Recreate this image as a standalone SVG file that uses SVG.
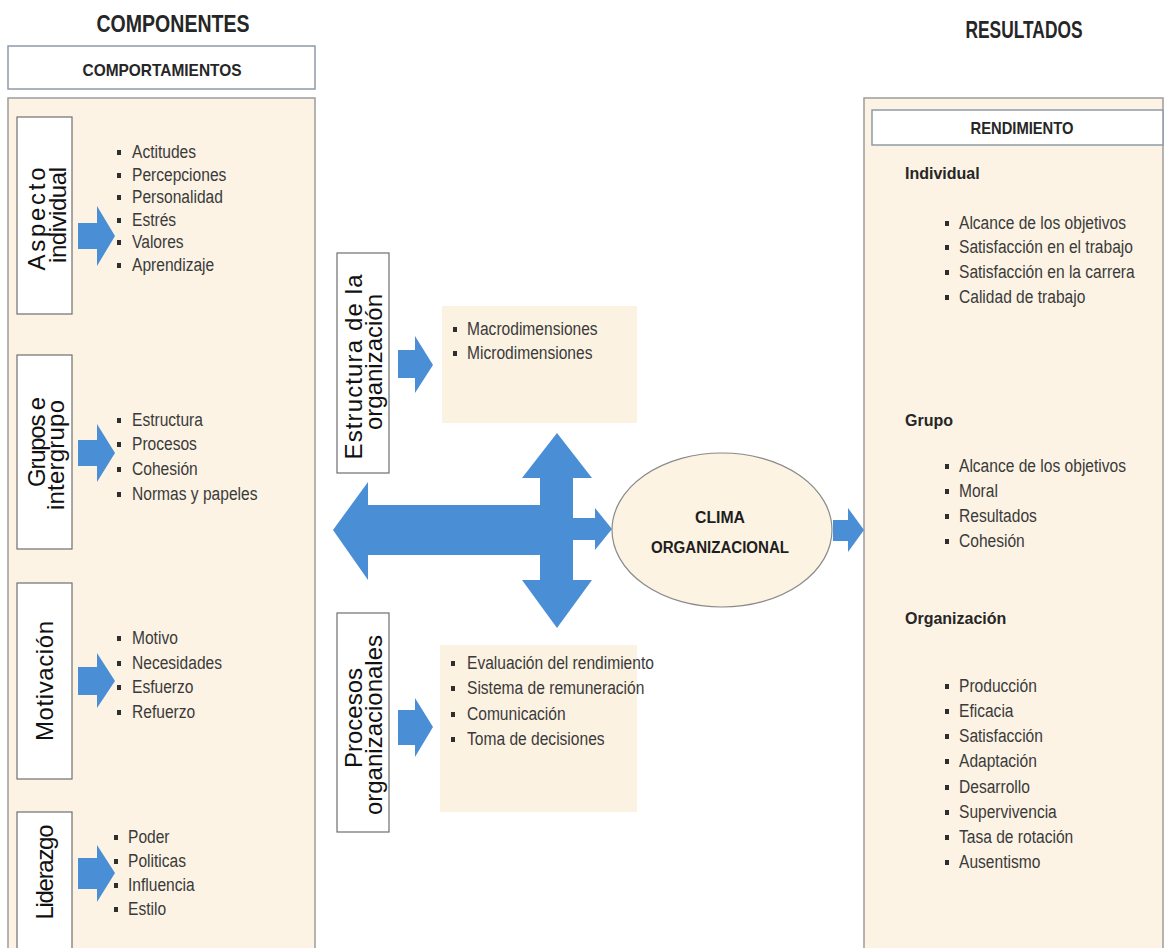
<svg xmlns="http://www.w3.org/2000/svg" width="1165" height="948" viewBox="0 0 1165 948">
<style>
.panel{fill:#fcf3e4;stroke:#9c9c9c;stroke-width:1.5}
.hbox{fill:#ffffff;stroke:#8e9aa8;stroke-width:1.5}
.vbox{fill:#ffffff;stroke:#6f6f6f;stroke-width:1.2}
.lbox{fill:#fcf2e2}
.title{font-family:"Liberation Sans",Arial,sans-serif;font-weight:bold;font-size:23px;fill:#262626;text-anchor:middle}
.hdr{font-family:"Liberation Sans",Arial,sans-serif;font-weight:bold;font-size:17px;fill:#262626;text-anchor:middle}
.vt{font-family:"Liberation Sans",Arial,sans-serif;font-size:24px;fill:#111;text-anchor:middle}
.li{font-family:"Liberation Sans",Arial,sans-serif;font-size:19px;fill:#3a3a3a}
.sub{font-family:"Liberation Sans",Arial,sans-serif;font-weight:bold;font-size:16px;fill:#262626}
.b{fill:#2e2e2e}
.arr{fill:#4a8fd6}
.ell{fill:#fcf3e3;stroke:#8a8a8a;stroke-width:1.2}
.clima{font-family:"Liberation Sans",Arial,sans-serif;font-weight:bold;font-size:16px;fill:#1e1e1e;text-anchor:middle}
</style>
<rect x="0" y="0" width="1165" height="948" fill="#ffffff"/>

<g id="titles">
<text class="title" x="173" y="32" textLength="153" lengthAdjust="spacingAndGlyphs">COMPONENTES</text>
<text class="title" x="1024" y="38" textLength="117" lengthAdjust="spacingAndGlyphs">RESULTADOS</text>
</g>

<g id="comportamientos">
<rect class="hbox" x="8" y="46" width="307" height="43"/>
<text class="hdr" x="162" y="76" textLength="159" lengthAdjust="spacingAndGlyphs">COMPORTAMIENTOS</text>
</g>

<g id="left-panel">
<rect class="panel" x="8" y="98" width="307" height="860"/>
</g>

<g id="aspecto-individual">
<rect class="vbox" x="17" y="117" width="55" height="197"/>
<text class="vt" transform="translate(45,219) rotate(-90)" textLength="103" lengthAdjust="spacing">Aspecto</text>
<text class="vt" transform="translate(66,215) rotate(-90)" textLength="96" lengthAdjust="spacing">individual</text>
<rect class="b" x="117" y="150" width="4" height="5"/><text class="li" transform="translate(132,158) scale(0.82,1)">Actitudes</text>
<rect class="b" x="117" y="173" width="4" height="5"/><text class="li" transform="translate(132,181) scale(0.82,1)">Percepciones</text>
<rect class="b" x="117" y="195" width="4" height="5"/><text class="li" transform="translate(132,203) scale(0.82,1)">Personalidad</text>
<rect class="b" x="117" y="218" width="4" height="5"/><text class="li" transform="translate(132,226) scale(0.82,1)">Estrés</text>
<rect class="b" x="117" y="240" width="4" height="5"/><text class="li" transform="translate(132,248) scale(0.82,1)">Valores</text>
<rect class="b" x="117" y="263" width="4" height="5"/><text class="li" transform="translate(132,271) scale(0.82,1)">Aprendizaje</text>
</g>

<g id="grupos-intergrupo">
<rect class="vbox" x="17" y="355" width="55" height="194"/>
<text class="vt" transform="translate(45,442) rotate(-90)" textLength="90" lengthAdjust="spacing">Grupos e</text>
<text class="vt" transform="translate(64,455) rotate(-90)" textLength="110" lengthAdjust="spacing">intergrupo</text>
<rect class="b" x="117" y="418" width="4" height="5"/><text class="li" transform="translate(132,426) scale(0.82,1)">Estructura</text>
<rect class="b" x="117" y="442" width="4" height="5"/><text class="li" transform="translate(132,450) scale(0.82,1)">Procesos</text>
<rect class="b" x="117" y="467" width="4" height="5"/><text class="li" transform="translate(132,475) scale(0.82,1)">Cohesión</text>
<rect class="b" x="117" y="492" width="4" height="5"/><text class="li" transform="translate(132,500) scale(0.82,1)">Normas y papeles</text>
</g>

<g id="motivacion">
<rect class="vbox" x="17" y="583" width="55" height="196"/>
<text class="vt" transform="translate(53,681) rotate(-90)" textLength="120" lengthAdjust="spacing">Motivación</text>
<rect class="b" x="117" y="636" width="4" height="5"/><text class="li" transform="translate(132,644) scale(0.82,1)">Motivo</text>
<rect class="b" x="117" y="661" width="4" height="5"/><text class="li" transform="translate(132,669) scale(0.82,1)">Necesidades</text>
<rect class="b" x="117" y="685" width="4" height="5"/><text class="li" transform="translate(132,693) scale(0.82,1)">Esfuerzo</text>
<rect class="b" x="117" y="710" width="4" height="5"/><text class="li" transform="translate(132,718) scale(0.82,1)">Refuerzo</text>
</g>

<g id="liderazgo">
<rect class="vbox" x="17" y="812" width="55" height="146"/>
<text class="vt" transform="translate(53,872) rotate(-90)" textLength="95" lengthAdjust="spacing">Liderazgo</text>
<rect class="b" x="114" y="835" width="4" height="5"/><text class="li" transform="translate(128,843) scale(0.82,1)">Poder</text>
<rect class="b" x="114" y="859" width="4" height="5"/><text class="li" transform="translate(128,867) scale(0.82,1)">Politicas</text>
<rect class="b" x="114" y="883" width="4" height="5"/><text class="li" transform="translate(128,891) scale(0.82,1)">Influencia</text>
<rect class="b" x="114" y="907" width="4" height="5"/><text class="li" transform="translate(128,915) scale(0.82,1)">Estilo</text>
</g>

<g id="estructura-organizacion">
<rect class="vbox" x="337" y="253" width="52" height="220"/>
<text class="vt" transform="translate(362,367) rotate(-90)" textLength="185" lengthAdjust="spacing">Estructura de la</text>
<text class="vt" transform="translate(382,362) rotate(-90)">organización</text>
<rect class="lbox" x="442" y="306" width="195" height="117"/>
<rect class="b" x="453" y="327" width="4" height="5"/><text class="li" transform="translate(467,335) scale(0.82,1)">Macrodimensiones</text>
<rect class="b" x="453" y="351" width="4" height="5"/><text class="li" transform="translate(467,359) scale(0.82,1)">Microdimensiones</text>
</g>

<g id="procesos-organizacionales">
<rect class="vbox" x="337" y="613" width="52" height="219"/>
<text class="vt" transform="translate(362,718) rotate(-90)">Procesos</text>
<text class="vt" transform="translate(382,725) rotate(-90)">organizacionales</text>
<rect class="lbox" x="440" y="645" width="197" height="167"/>
<rect class="b" x="451" y="661" width="4" height="5"/><text class="li" transform="translate(467,669) scale(0.82,1)">Evaluación del rendimiento</text>
<rect class="b" x="451" y="686" width="4" height="5"/><text class="li" transform="translate(467,694) scale(0.82,1)">Sistema de remuneración</text>
<rect class="b" x="451" y="712" width="4" height="5"/><text class="li" transform="translate(467,720) scale(0.82,1)">Comunicación</text>
<rect class="b" x="451" y="737" width="4" height="5"/><text class="li" transform="translate(467,745) scale(0.82,1)">Toma de decisiones</text>
</g>

<g id="clima-organizacional">
<ellipse class="ell" cx="722" cy="530" rx="110" ry="77"/>
<text class="clima" x="720" y="523" textLength="50" lengthAdjust="spacingAndGlyphs">CLIMA</text>
<text class="clima" x="720" y="553" textLength="138" lengthAdjust="spacingAndGlyphs">ORGANIZACIONAL</text>
</g>

<g id="rendimiento">
<rect class="panel" x="864" y="98" width="299" height="860"/>
<rect class="hbox" x="872" y="110" width="291" height="35"/>
<text class="hdr" x="1022" y="134" textLength="103" lengthAdjust="spacingAndGlyphs">RENDIMIENTO</text>
<text class="sub" x="905" y="179">Individual</text>
<rect class="b" x="945" y="221" width="4" height="5"/><text class="li" transform="translate(959,229) scale(0.82,1)">Alcance de los objetivos</text>
<rect class="b" x="945" y="245" width="4" height="5"/><text class="li" transform="translate(959,253) scale(0.82,1)">Satisfacción en el trabajo</text>
<rect class="b" x="945" y="270" width="4" height="5"/><text class="li" transform="translate(959,278) scale(0.82,1)">Satisfacción en la carrera</text>
<rect class="b" x="945" y="295" width="4" height="5"/><text class="li" transform="translate(959,303) scale(0.82,1)">Calidad de trabajo</text>
<text class="sub" x="905" y="426">Grupo</text>
<rect class="b" x="945" y="464" width="4" height="5"/><text class="li" transform="translate(959,472) scale(0.82,1)">Alcance de los objetivos</text>
<rect class="b" x="945" y="489" width="4" height="5"/><text class="li" transform="translate(959,497) scale(0.82,1)">Moral</text>
<rect class="b" x="945" y="514" width="4" height="5"/><text class="li" transform="translate(959,522) scale(0.82,1)">Resultados</text>
<rect class="b" x="945" y="539" width="4" height="5"/><text class="li" transform="translate(959,547) scale(0.82,1)">Cohesión</text>
<text class="sub" x="905" y="624">Organización</text>
<rect class="b" x="945" y="684" width="4" height="5"/><text class="li" transform="translate(959,692) scale(0.82,1)">Producción</text>
<rect class="b" x="945" y="709" width="4" height="5"/><text class="li" transform="translate(959,717) scale(0.82,1)">Eficacia</text>
<rect class="b" x="945" y="734" width="4" height="5"/><text class="li" transform="translate(959,742) scale(0.82,1)">Satisfacción</text>
<rect class="b" x="945" y="759" width="4" height="5"/><text class="li" transform="translate(959,767) scale(0.82,1)">Adaptación</text>
<rect class="b" x="945" y="785" width="4" height="5"/><text class="li" transform="translate(959,793) scale(0.82,1)">Desarrollo</text>
<rect class="b" x="945" y="810" width="4" height="5"/><text class="li" transform="translate(959,818) scale(0.82,1)">Supervivencia</text>
<rect class="b" x="945" y="835" width="4" height="5"/><text class="li" transform="translate(959,843) scale(0.82,1)">Tasa de rotación</text>
<rect class="b" x="945" y="860" width="4" height="5"/><text class="li" transform="translate(959,868) scale(0.82,1)">Ausentismo</text>
</g>

<g id="connectors">
<polygon class="arr" points="78,223 97,223 97,206 115,236 97,266 97,249 78,249"/>
<polygon class="arr" points="78,440 97,440 97,424 115,453 97,482 97,466 78,466"/>
<polygon class="arr" points="78,667 97,667 97,653 115,681 97,708 97,695 78,695"/>
<polygon class="arr" points="78,858 97,858 97,845 115,873 97,902 97,889 78,889"/>
<polygon class="arr" points="398,350 415,350 415,336 433,365 415,393 415,378 398,378"/>
<polygon class="arr" points="398,710 415,710 415,698 433,727 415,757 415,745 398,745"/>
<polygon class="arr" points="333,530 368,482 368,505 540,505 540,478 522,478 557,433 592,478 573,478 573,580 592,580 557,628 522,580 540,580 540,555 368,555 368,580"/>
<polygon class="arr" points="573,518 595,518 595,508 612,529 595,550 595,540 573,540"/>
<polygon class="arr" points="833,520 848,520 848,508 864,530 848,552 848,541 833,541"/>
</g>
</svg>
